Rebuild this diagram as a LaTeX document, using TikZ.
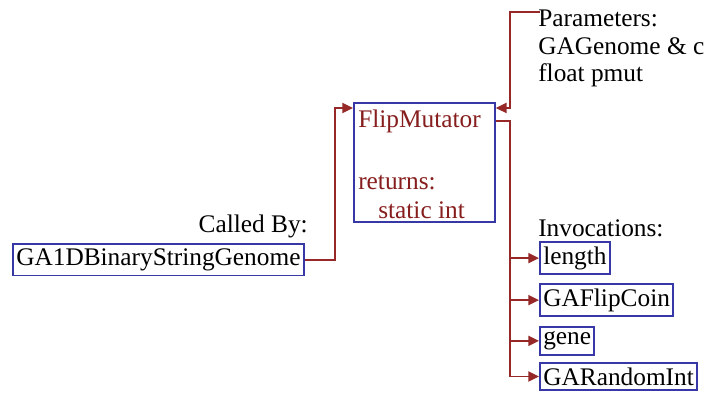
\documentclass[tikz,border=0pt]{standalone}
\usepackage{fontspec}
\setmainfont{Liberation Serif}
\newfontfamily\tms{Liberation Serif}
\usetikzlibrary{arrows.meta}
\definecolor{boxblue}{RGB}{55,55,165}
\definecolor{linered}{RGB}{150,40,40}
\definecolor{textred}{RGB}{135,30,30}
\tikzset{
  txt/.style={inner sep=0pt, font=\tms\fontsize{19}{20}\selectfont},
  fbox/.style={draw=boxblue, line width=1.4pt, inner xsep=2.5pt, inner ysep=3.5pt, font=\tms\fontsize{19}{20}\selectfont},
  conn/.style={draw=linered, line width=1.4pt},
  arr/.style={conn, -{Triangle[length=8pt,width=7.5pt]}}
}
\begin{document}
\begin{tikzpicture}[x=0.75pt,y=-0.75pt]
\useasboundingbox[fill=white] (0,0) rectangle (709,395);
% main box
\node[draw=boxblue, line width=1.4pt, minimum width=141*0.75pt, minimum height=119*0.75pt, anchor=north west, inner sep=0pt] (main) at (353,102) {};
\node[txt, text=textred, anchor=base west] (mname) at (358,128) {FlipMutator};
\node[txt, text=textred, anchor=base west] (mret) at (358,190) {returns:};
\node[txt, text=textred, anchor=base west] (mtype) at (378,219) {static int};
% parameters
\node[txt, anchor=base west] (p1) at (538,27) {Parameters:};
\node[txt, anchor=base west] (p2) at (538,55) {GAGenome \& c};
\node[txt, anchor=base west] (p3) at (538,82) {float pmut};
\coordinate (pstart) at (540,12);
% caller
\node[txt, anchor=base east] (calledby) at (308,232) {Called By:};
\node[fbox, anchor=north west] (caller) at (12,243) {GA1DBinaryStringGenome};
% invocations
\node[txt, anchor=base west] (inv) at (538,236) {Invocations:};
\node[fbox, anchor=north west] (i1) at (539,241) {length};
\node[fbox, anchor=north west] (i2) at (539,283) {GAFlipCoin};
\node[fbox, anchor=north west] (i3) at (539,326) {gene};
\node[fbox, anchor=north west] (i4) at (539,362) {GARandomInt};
\coordinate (trunk) at (510,121);
% connectors
\draw[arr] (caller.east) -- ++(30,0) |- ([yshift=-4.5pt]main.north west);
\draw[arr] (pstart) -- ++(-30,0) |- ([yshift=-4.5pt]main.north east);
\draw[conn] (main.east |- trunk) -- (trunk) -- (trunk |- i4.west);
\draw[arr] (trunk |- i1.west) -- (i1.west);
\draw[arr] (trunk |- i2.west) -- (i2.west);
\draw[arr] (trunk |- i3.west) -- (i3.west);
\draw[arr] (trunk |- i4.west) -- (i4.west);
\end{tikzpicture}
\end{document}
